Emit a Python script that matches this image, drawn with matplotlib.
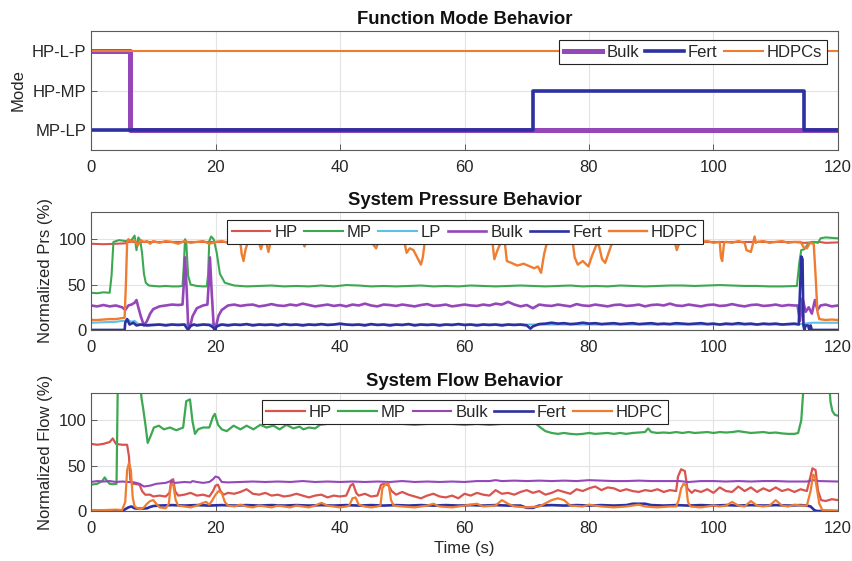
import numpy as np
import matplotlib
matplotlib.use('Agg')
import matplotlib.pyplot as plt

plt.rcParams['font.family'] = ['Liberation Sans', 'DejaVu Sans']

# ---------------- data ----------------
mode_labels = ['MP-LP', 'HP-MP', 'HP-L-P']          # mode codes 1, 2, 3
mode_bulk = [(0, 3), (6.3, 1), (120, 1)]
mode_fert = [(0, 1), (71.0, 2), (114.5, 1), (120, 1)]
mode_hdpc = [(0, 3), (120, 3)]

prs_hp = [(0, 95), (2, 94.5), (4, 95), (5.5, 95.5), (6, 97), (30, 97), (60, 97.5), (90, 97),
          (113, 97), (114.5, 96), (116, 96.5), (117, 97), (118, 96), (120, 96.5)]

prs_mp = [(0, 41), (1, 40.5), (2, 41.5), (3, 41), (3.3, 60), (3.6, 97), (4.5, 99), (5.5, 98),
          (6.5, 99), (7.0, 104), (7.3, 88), (7.6, 102), (7.9, 99), (8.2, 85), (8.5, 62), (8.8, 52),
          (9.3, 49), (10, 48.5), (11, 48), (12, 48.5), (13, 48), (14, 48), (14.7, 48.5), (14.9, 70),
          (15.1, 100), (15.3, 97), (15.6, 60), (16, 50), (17, 48.5), (18, 48), (18.6, 48), (18.8, 60),
          (19.0, 98), (19.3, 103), (19.7, 100), (20.2, 85), (20.7, 62), (21.5, 52), (23, 49), (25, 48),
          (27, 48.5), (29, 49), (31, 48), (33, 48.5), (35, 48), (37, 49), (39, 48), (41, 49.5),
          (43, 49), (45, 48), (47, 48.5), (49, 48), (51, 48.5), (53, 49), (55, 48), (57, 48.5),
          (59, 48), (61, 49), (63, 48.5), (65, 48), (67, 48.5), (69, 49), (71, 48.5), (73, 48),
          (75, 48.5), (77, 49), (79, 48), (81, 48.5), (83, 48), (85, 49), (87, 48.5), (89, 48),
          (91, 48.5), (93, 49), (95, 49), (97, 48.5), (99, 49), (101, 49.5), (103, 49), (105, 48.5),
          (107, 48.5), (109, 48), (111, 48), (113.4, 48.5), (113.8, 75), (114.1, 88), (114.6, 89),
          (115.2, 95), (115.8, 97), (116.3, 97), (116.8, 96), (117.2, 101), (118, 102),
          (119, 101.5), (120, 101)]

prs_lp = [(0, 8), (2, 8.5), (4, 9), (5, 10), (5.5, 10), (6, 11), (6.5, 9), (7, 10), (7.5, 7),
          (8, 6), (40, 6), (80, 6), (113, 6), (114.5, 7), (116, 8), (120, 8)]

prs_bulk = [(0, 27), (1, 26), (2, 27.5), (3, 26), (4, 27), (5, 25), (5.5, 22), (6, 27), (6.5, 28),
            (7, 30), (7.3, 33), (7.6, 25), (8, 15), (8.5, 5), (9, 10), (9.5, 18), (10, 23), (11, 26),
            (12, 27), (13, 28), (14, 27.5), (14.7, 28), (14.9, 50), (15.1, 80), (15.4, 40),
            (15.6, 5), (15.9, 3), (16.3, 15), (17, 24), (18, 27), (18.7, 28), (18.9, 50), (19.1, 80),
            (19.4, 40), (19.7, 5), (20, 2), (20.5, 16), (21, 22), (22, 27),
            (23, 28), (24, 26.5), (25, 27.5), (26, 28), (27, 26), (28, 27), (29, 28.5), (30, 27),
            (31, 26.5), (32, 28), (33, 27), (34, 29), (35, 27.5), (36, 26), (37, 27), (38, 28),
            (39, 26.5), (40, 27.5), (41, 26), (42, 28), (43, 27), (44, 29), (45, 27), (46, 26),
            (47, 28), (48, 27.5), (49, 26.5), (50, 28), (51, 27), (52, 26), (53, 27.5), (54, 28.5),
            (55, 26.5), (56, 27), (57, 28), (58, 26), (59, 27), (60, 28), (61, 27), (62, 26.5),
            (63, 28), (64, 27), (65, 29), (66, 28), (67, 31), (68, 28), (69, 26), (70, 27.5),
            (71, 24), (72, 28), (73, 27), (74, 26.5), (75, 28), (76, 27), (77, 26), (78, 28.5),
            (79, 27), (80, 26.5), (81, 28), (82, 27), (83, 26), (84, 27.5), (85, 28), (86, 26.5),
            (87, 27), (88, 28), (89, 26), (90, 27.5), (91, 28), (92, 27), (93, 29), (94, 27),
            (95, 26.5), (96, 28), (97, 27), (98, 26), (99, 27.5), (100, 28), (101, 26.5), (102, 27),
            (103, 28.5), (104, 27), (105, 26), (106, 27.5), (107, 28), (108, 26.5), (109, 27),
            (110, 28), (111, 26.5), (112, 27.5), (113, 27), (113.5, 27), (113.9, 10), (114.3, 35),
            (114.8, 20), (115.3, 25), (115.8, 18), (116.3, 33), (116.7, 22), (117.2, 27), (118, 28),
            (119, 26), (120, 27)]

prs_fert = [(0, 0), (5.4, 0), (5.5, 8), (5.8, 12), (6.2, 6), (6.8, 8), (7.3, 5), (8, 6), (9, 5),
            (10, 5.5), (11, 6), (12, 5), (13, 6), (14, 5.5), (15, 6), (15.4, 2), (15.6, 0),
            (15.9, 4), (16.5, 6), (17, 5), (18, 6), (19, 5.5), (19.6, 3), (19.9, 0), (20.2, 4),
            (21, 6), (22, 5), (23, 6), (24, 5.5), (25, 6.5), (26, 5), (27, 6), (28, 5.5), (29, 6),
            (30, 5), (31, 6.5), (32, 5.5), (33, 6), (34, 5), (35, 6), (36, 5.5), (37, 6.5),
            (38, 5.5), (39, 6), (40, 7), (41, 6), (42, 5.5), (43, 6), (44, 5), (45, 6.5), (46, 5.5),
            (47, 6), (48, 5), (49, 6), (50, 5.5), (51, 6.5), (52, 5), (53, 6), (54, 5.5), (55, 6),
            (56, 5), (57, 6), (58, 5.5), (59, 6.5), (60, 5.5), (61, 6), (62, 5), (63, 6), (64, 5.5),
            (65, 6), (66, 5), (67, 6), (68, 5.5), (69, 6), (70, 5), (70.6, 1.5), (71, 4), (72, 6.5),
            (73, 7), (74, 8), (75, 7), (76, 7.5), (77, 6.5), (78, 7), (79, 8), (80, 7), (81, 7.5),
            (82, 6.5), (83, 7), (84, 7.5), (85, 6.5), (86, 7), (87, 7.5), (88, 6.5), (89, 7),
            (90, 7.5), (91, 6.5), (92, 7), (93, 6.5), (94, 7.5), (95, 7), (96, 6.5), (97, 7),
            (98, 7.5), (99, 6.5), (100, 7), (101, 6), (102, 7), (103, 6.5), (104, 7.5), (105, 6.5),
            (106, 7), (107, 6), (108, 7), (109, 6.5), (110, 7), (111, 6), (112, 6.5), (113, 7),
            (113.7, 6), (113.9, 45), (114.1, 81), (114.3, 78), (114.45, 5), (114.6, 0), (114.8, 5),
            (115.2, 5), (115.4, 0), (115.6, 5), (115.8, 0), (120, 0)]

prs_hdpc = [(0, 11), (1, 11), (2, 11.5), (3, 12), (4, 12), (5, 13), (5.4, 13.5), (5.6, 50),
            (5.8, 96), (6, 100), (6.5, 97), (7, 99), (7.5, 93), (8, 99), (8.5, 97), (9, 98),
            (9.5, 95), (10, 98), (11, 96), (12, 98), (13, 97), (14, 95), (15, 98), (16, 96),
            (17, 97), (18, 98), (19, 95), (20, 97), (21, 98), (22, 96), (23, 97), (24, 96),
            (24.2, 84), (24.5, 76), (24.8, 88), (25.2, 97), (26, 98), (27, 96), (27.3, 89),
            (27.6, 96), (28.2, 95), (28.5, 86), (28.8, 95), (29.5, 97), (30, 96), (31, 97),
            (32, 98), (33, 96), (34, 97), (34.3, 92), (34.6, 97), (35, 96), (36, 98), (37, 97),
            (38, 96), (39, 98), (40, 97), (41, 96), (42, 98), (43, 97), (44, 96), (45, 97),
            (45.8, 90), (46.1, 96), (47, 98), (48, 96), (49, 97), (50, 96), (50.4, 95), (50.7, 85),
            (51.2, 90), (51.8, 88), (52.4, 80), (53, 72), (53.3, 80), (53.6, 96), (54, 97),
            (55, 96), (56, 98), (57, 97), (58, 96), (59, 97), (60, 98), (61, 96), (62, 97),
            (63, 98), (64, 96), (64.5, 96), (64.8, 78), (65.3, 88), (65.8, 96), (66.5, 95),
            (66.8, 76), (67.5, 74), (68.5, 71), (69.5, 73), (70.5, 70), (71.2, 68), (71.8, 70),
            (72.3, 63), (72.8, 84), (73.2, 95), (74, 97), (75, 96), (76, 98), (77, 97), (77.4, 96),
            (77.7, 80), (78.2, 72), (79, 76), (79.9, 70), (80.5, 82), (81.2, 94), (81.6, 93),
            (82.1, 78), (82.6, 74), (83.2, 86), (83.6, 94), (84.2, 97), (85, 96), (86, 97),
            (87, 98), (88, 96), (89, 97), (90, 98), (91, 96), (92, 97), (93, 98), (93.8, 96),
            (94.1, 88), (94.5, 96), (95, 97), (96, 98), (97, 96), (98, 97), (99, 98), (100, 96),
            (101, 97), (101.2, 80), (101.4, 76), (101.7, 96), (102, 97), (103, 96), (104, 98),
            (105, 96), (105.3, 88), (106, 86), (106.3, 94), (106.6, 103), (106.8, 96), (107, 97),
            (108, 98), (109, 96), (110, 97), (111, 98), (112, 96), (113, 97), (114, 97),
            (114.5, 91), (115, 90), (115.5, 96), (116.1, 95), (116.4, 60), (116.7, 20), (117, 12),
            (118, 11), (119, 11.5), (120, 11)]

flow_hp = [(0, 74), (1, 73), (2, 74), (3, 76), (3.5, 80), (4, 74), (5, 73), (5.8, 73), (6.1, 60),
           (6.3, 35), (6.6, 30), (7, 30), (7.8, 29), (8.2, 22), (8.7, 18), (9.5, 18), (10, 16),
           (11, 17), (12, 16), (12.6, 20), (12.9, 34), (13.2, 35), (13.5, 22), (14, 17), (15, 18),
           (16, 20), (17, 17), (18, 18), (19, 16), (19.6, 22), (20, 28), (20.4, 29), (20.8, 22),
           (21.3, 18), (22, 20), (23, 19), (24, 21), (25, 24), (26, 19), (27, 18), (28, 20),
           (29, 17), (30, 18), (31, 16), (32, 17), (33, 19), (34, 17), (35, 15), (36, 17), (37, 18),
           (38, 15), (39, 17), (40, 16), (41, 17), (41.7, 28), (42.1, 30), (42.6, 20), (43, 17),
           (44, 19), (45, 16), (46, 17), (46.6, 29), (47.2, 30), (47.8, 28), (48.3, 22), (49, 18),
           (50, 21), (51, 18), (52, 16), (53, 14), (54, 17), (55, 19), (56, 16), (57, 15), (58, 17),
           (59, 14), (60, 19), (61, 17), (62, 20), (63, 18), (64, 17), (65, 23), (66, 19), (67, 20),
           (68, 18), (69, 21), (70, 23), (71, 20), (72, 22), (73, 18), (74, 20), (75, 23), (76, 21),
           (77, 19), (78, 24), (79, 22), (80, 25), (81, 27), (82, 23), (83, 26), (84, 25), (85, 22),
           (86, 24), (87, 22), (88, 21), (89, 23), (90, 22), (91, 24), (92, 21), (93, 23), (94, 22),
           (94.3, 38), (94.8, 46), (95.4, 44), (95.8, 25), (96.5, 20), (97, 23), (98, 21), (99, 24),
           (100, 20), (101, 26), (102, 22), (103, 21), (104, 27), (105, 22), (106, 26), (107, 21),
           (108, 25), (109, 22), (110, 26), (111, 22), (112, 24), (113, 21), (114, 24), (115, 22),
           (115.5, 36), (115.9, 47), (116.4, 45), (116.8, 22), (117.3, 12), (118, 11), (119, 13),
           (120, 12)]

flow_mp = [(0, 29), (1, 30), (1.8, 33), (2.2, 37), (2.6, 33), (3, 30), (3.6, 29.5), (4.1, 30),
           (4.3, 140), (7.9, 140), (8.1, 125), (8.4, 112), (8.8, 92), (9.1, 75), (9.6, 83),
           (10.1, 92), (10.9, 94), (11.7, 90), (12.7, 92), (13.7, 89), (14.8, 92), (15.3, 121),
           (15.9, 123), (16.3, 99), (16.7, 85), (17.2, 90), (18.0, 92), (19.0, 92), (19.6, 104),
           (19.9, 107), (20.4, 95), (21, 90), (21.8, 88), (22.9, 94), (24, 90), (25, 94),
           (26.1, 90), (27.2, 95), (28.2, 92), (29.3, 94), (30.3, 90), (31.4, 95), (32.5, 91),
           (33.5, 93), (34.1, 90), (35, 92), (36, 91), (36.8, 95), (38, 96), (40, 97), (42, 96),
           (44, 97), (46, 96), (48, 97), (50, 96), (52, 95), (54, 96), (56, 97), (58, 96), (60, 95),
           (62, 96), (64, 95), (66, 96), (68, 97), (70, 96), (71.5, 96), (72.2, 92), (73, 88),
           (74, 86), (75, 85), (76, 86), (77, 85), (78, 84.5), (79, 85), (80, 86), (81, 85),
           (82, 85.5), (83, 86), (84, 85), (85, 86), (86, 85), (87, 86), (88, 86.5), (89, 87),
           (89.5, 91), (90, 87), (91, 86), (92, 86.5), (93, 86), (94, 87), (95, 86), (96, 87),
           (97, 86), (98, 86.5), (99, 87), (100, 86), (101, 87), (102, 86.5), (103, 87), (104, 88),
           (105, 87), (106, 86), (107, 86.5), (108, 87), (109, 86), (110, 86.5), (111, 85.5),
           (112, 85), (113, 85), (113.6, 86), (114.1, 100), (114.5, 140), (118.6, 140),
           (118.8, 120), (119.1, 110), (119.5, 106), (120, 105)]

flow_bulk = [(0, 32), (1, 33), (2, 32.5), (3, 33), (4, 32), (5, 32.5), (6, 32), (7, 31.5),
             (7.8, 30), (8.5, 27), (9.5, 28), (10.5, 30), (12, 31), (12.8, 33), (13.5, 31),
             (15, 32), (16, 31.5), (16.3, 33), (17, 32), (18, 31), (19, 32), (19.6, 35), (20, 38),
             (20.5, 37), (21, 32), (22, 31.5), (24, 32), (26, 32.5), (28, 32), (30, 32.5),
             (32, 32), (34, 33), (36, 32), (38, 32.5), (40, 32), (42, 32.5), (44, 32), (46, 32.5),
             (48, 32), (50, 33), (52, 32), (54, 32.5), (56, 32), (58, 32.5), (60, 32), (62, 33),
             (64, 33), (65, 34), (66, 33), (68, 33.5), (70, 33), (72, 33.5), (74, 33), (76, 33.5),
             (78, 33), (80, 34), (82, 33.5), (84, 33), (86, 33), (88, 33.5), (90, 33), (92, 33),
             (94.5, 33), (96, 32), (98, 33), (100, 33), (102, 32.5), (104, 33), (106, 32.5),
             (108, 33), (110, 33), (112, 32.5), (115, 32.5), (116, 34), (117, 33), (120, 32.5)]

flow_fert = [(0, 0), (5, 0), (5.5, 2), (6, 4), (6.5, 5), (7, 3), (8, 2.5), (9, 3), (9.5, 4.5),
             (10, 5.5), (11, 6), (13, 6.5), (15, 6), (17, 6.5), (19, 6), (21, 6.5), (23, 6),
             (25, 6.5), (27, 6), (29, 6.5), (31, 6), (33, 6.5), (35, 6), (37, 6.5), (39, 6),
             (41, 6.5), (43, 6), (45, 6.5), (47, 6), (49, 6.5), (51, 6), (53, 6.5), (55, 6),
             (57, 6.5), (59, 6), (61, 6.5), (63, 6), (65, 6.5), (67, 6), (69, 6), (70, 3.5),
             (71, 3.5), (72, 6), (74, 6.5), (76, 6), (78, 6.5), (80, 6), (82, 6.5), (84, 6),
             (86, 6.5), (87, 8), (89, 8), (90, 6.5), (92, 6), (94, 6.5), (96, 6), (98, 6.5),
             (100, 6), (102, 6.5), (104, 6), (106, 6.5), (108, 6), (110, 6.5), (112, 6),
             (114, 6.5), (115, 6), (115.6, 5), (116.2, 1), (116.6, 0), (120, 0)]

flow_hdpc = [(0, 1), (2, 1), (4, 1.5), (5, 1), (5.5, 10), (5.8, 45), (6.1, 53), (6.4, 45),
             (6.7, 15), (7, 5), (7.5, 3), (8, 2), (8.5, 4), (9, 8), (9.5, 11), (10, 12),
             (10.5, 8), (11, 4), (12, 3), (12.5, 8), (12.8, 28), (13.2, 30), (13.6, 12), (14, 6),
             (15, 5), (16, 4), (17, 6), (18, 9), (18.5, 10), (19, 7), (19.5, 12), (20, 18),
             (20.5, 22), (21, 20), (21.5, 10), (22, 6), (23, 5), (24, 7), (25, 5), (26, 4), (27, 6),
             (28, 5), (29, 4), (30, 6), (31, 5), (32, 4), (33, 6), (34, 5), (35, 4), (36, 6),
             (37, 9), (38, 6), (39, 5), (40, 4), (41, 5), (41.5, 6), (42, 14), (42.5, 15), (43, 7),
             (44, 5), (45, 4), (46, 5), (46.5, 6), (46.8, 25), (47.3, 30), (47.8, 30), (48.2, 12),
             (48.6, 6), (50, 5), (52, 4), (54, 6), (55, 8), (56, 5), (58, 4), (60, 6), (62, 8),
             (63, 5), (65, 6), (66, 12), (67, 8), (68, 5), (70, 4), (72, 5), (74, 12), (75, 14),
             (76, 12), (77, 6), (79, 5), (80, 7), (82, 5), (84, 4), (86, 5), (88, 7), (89, 5),
             (91, 4), (93, 5), (94, 5), (94.4, 12), (94.8, 25), (95.2, 30), (95.6, 28),
             (95.9, 10), (96.3, 5), (98, 4), (100, 6), (101, 5), (102, 6), (103, 10), (104, 6),
             (105, 5), (106, 11), (107, 6), (108, 5), (109, 6), (110, 12), (111, 6), (112, 5),
             (113, 7), (114, 6), (115, 6), (115.6, 22), (116, 40), (116.3, 38), (116.6, 25),
             (117, 8), (117.5, 1), (120, 0)]

x_ticks = [0, 20, 40, 60, 80, 100, 120]
y_ticks = [0, 50, 100]

# ---------------- style ----------------
C_HP = '#D9534F'
C_MP = '#3DA852'
C_LP = '#5CC0E8'
C_BULK = '#9547BA'
C_FERT = '#2C30A0'
C_HDPC = '#EE7D32'
AX_COL = '#5a5a5a'
TXT_COL = '#262626'
FS = 12


def xy(pairs):
    a = np.asarray(pairs, dtype=float)
    return a[:, 0], a[:, 1]


def style_axes(ax):
    ax.set_xlim(0, 120)
    ax.set_xticks(x_ticks)
    ax.grid(True, color='#e3e3e3', linewidth=0.8)
    ax.set_axisbelow(True)
    for s in ax.spines.values():
        s.set_color(AX_COL)
        s.set_linewidth(0.8)
    ax.tick_params(direction='in', length=4, width=0.7, colors=AX_COL,
                   labelcolor=TXT_COL, labelsize=FS)
    ax.tick_params(axis='x', pad=7)


def legend(ax, loc, anchor, ncol):
    lg = ax.legend(loc=loc, bbox_to_anchor=anchor, ncol=ncol, fontsize=FS,
                   frameon=True, fancybox=False, framealpha=1, edgecolor='#222222',
                   borderaxespad=0, handlelength=2.3, handletextpad=0.25,
                   columnspacing=0.4, borderpad=0.28)
    lg.get_frame().set_linewidth(0.8)
    for t in lg.get_texts():
        t.set_color(TXT_COL)
    return lg


fig = plt.figure(figsize=(8.53, 5.61), dpi=100)
W = 0.8757
ax1 = fig.add_axes([0.1067, 0.7326, W, 0.2121])
ax2 = fig.add_axes([0.1067, 0.4118, W, 0.2103])
ax3 = fig.add_axes([0.1067, 0.0891, W, 0.2103])

# --- Panel 1: Function mode ---
t, v = xy(mode_bulk)
ax1.plot(t, v, drawstyle='steps-post', color=C_BULK, lw=3.6, label='Bulk')
t, v = xy(mode_fert)
ax1.plot(t, v, drawstyle='steps-post', color=C_FERT, lw=2.6, label='Fert')
t, v = xy(mode_hdpc)
ax1.plot(t, v, drawstyle='steps-post', color=C_HDPC, lw=1.5, label='HDPCs')
style_axes(ax1)
ax1.set_ylim(0.5, 3.5)
ax1.set_yticks([1, 2, 3])
ax1.set_yticklabels(mode_labels)
ax1.set_ylabel('Mode', fontsize=FS, color=TXT_COL)
ax1.set_title('Function Mode Behavior', fontsize=13.3, fontweight='bold', color='#111111', pad=5)
legend(ax1, 'upper right', (0.985, 0.925), 3)

# --- Panel 2: Pressure ---
for data, col, lab, lw in [(prs_hp, C_HP, 'HP', 1.5), (prs_mp, C_MP, 'MP', 1.5),
                           (prs_lp, C_LP, 'LP', 1.5), (prs_bulk, C_BULK, 'Bulk', 1.9),
                           (prs_fert, C_FERT, 'Fert', 1.9), (prs_hdpc, C_HDPC, 'HDPC', 1.7)]:
    t, v = xy(data)
    ax2.plot(t, v, color=col, lw=lw, label=lab)
style_axes(ax2)
ax2.set_ylim(0, 130)
ax2.set_yticks(y_ticks)
ax2.set_ylabel('Normalized Prs (%)', fontsize=FS, color=TXT_COL)
ax2.set_title('System Pressure Behavior', fontsize=13.3, fontweight='bold', color='#111111', pad=5)
legend(ax2, 'upper center', (0.5007, 0.932), 6)

# --- Panel 3: Flow ---
for data, col, lab, lw in [(flow_hp, C_HP, 'HP', 1.6), (flow_mp, C_MP, 'MP', 1.6),
                           (flow_bulk, C_BULK, 'Bulk', 1.5), (flow_fert, C_FERT, 'Fert', 1.9),
                           (flow_hdpc, C_HDPC, 'HDPC', 1.6)]:
    t, v = xy(data)
    ax3.plot(t, v, color=col, lw=lw, label=lab)
style_axes(ax3)
ax3.set_ylim(0, 130)
ax3.set_yticks(y_ticks)
ax3.set_ylabel('Normalized Flow (%)', fontsize=FS, color=TXT_COL)
ax3.set_xlabel('Time (s)', fontsize=FS, color=TXT_COL, labelpad=4)
ax3.set_title('System Flow Behavior', fontsize=13.3, fontweight='bold', color='#111111', pad=5)
legend(ax3, 'upper center', (0.5, 0.94), 5)

fig.savefig('out.png', dpi=100)
